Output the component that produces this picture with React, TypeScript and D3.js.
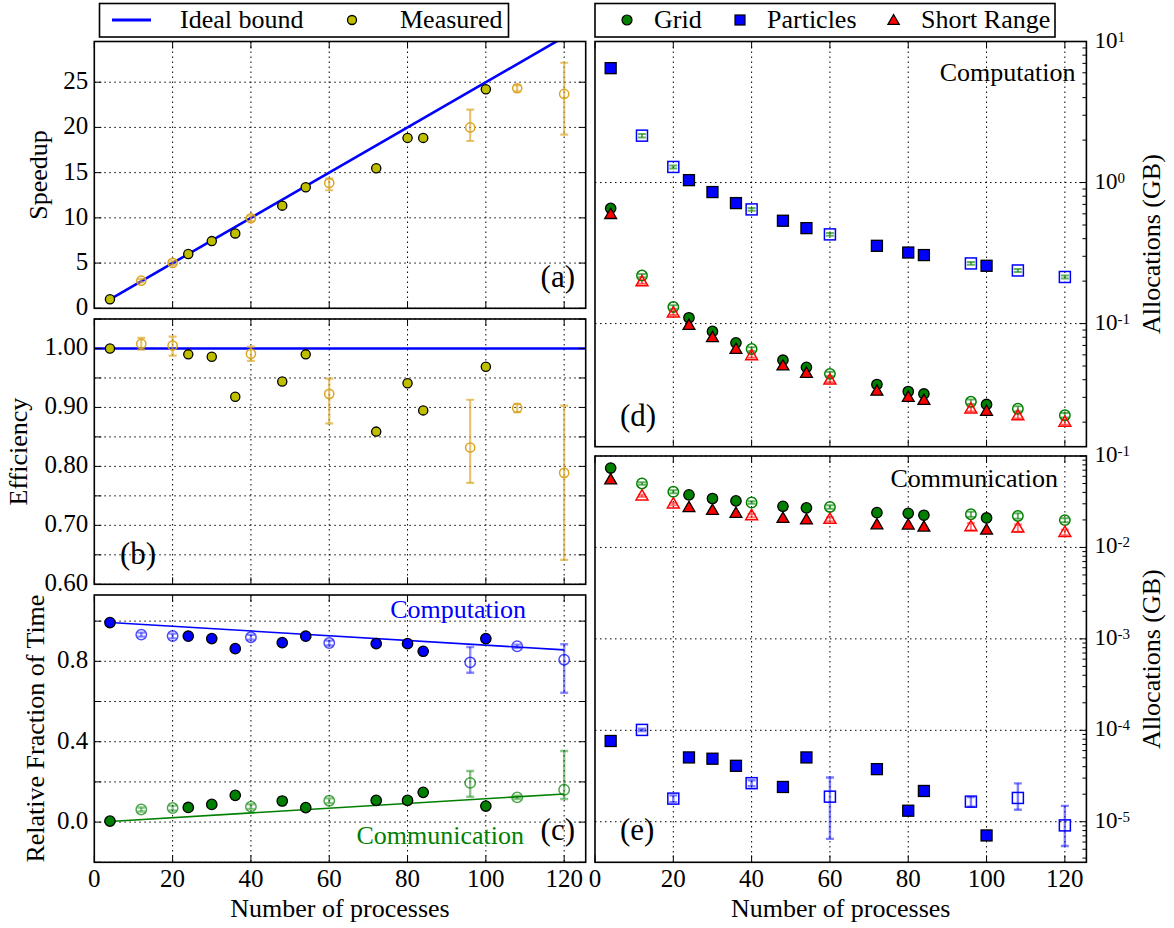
import React from 'react';
import * as d3 from 'd3';

// Process counts of every run; repeated runs are drawn hollow with error bars
const procs = [4, 12, 20, 24, 30, 36, 40, 48, 54, 60, 72, 80, 84, 96, 100, 108, 120];
const repeated = [0, 1, 1, 0, 0, 0, 1, 0, 0, 1, 0, 0, 0, 1, 0, 1, 1];

// (a) speedup, with lower / upper error extents of repeated runs
const speedup = [1.0, 3.05, 5.02, 6.0, 7.43, 8.28, 9.95, 11.35, 13.38, 13.85, 15.48, 18.84, 18.84, 20.0, 24.22, 24.33, 23.7];
const speedupLo = [0, 0.2, 0.25, 0, 0, 0, 0.3, 0, 0, 0.8, 0, 0, 0, 1.5, 0, 0.35, 4.5];
const speedupHi = [0, 0.2, 0.25, 0, 0, 0, 0.3, 0, 0, 0.5, 0, 0, 0, 1.97, 0, 0.35, 3.45];
const idealProcs = [4, 120];
const idealSpeedup = [1, 30];

// (b) efficiency
const efficiency = [1.0, 1.008, 1.005, 0.99, 0.986, 0.918, 0.991, 0.944, 0.99, 0.923, 0.859, 0.941, 0.895, 0.832, 0.969, 0.899, 0.789];
const efficiencyLo = [0, 0.01, 0.017, 0, 0, 0, 0.012, 0, 0, 0.05, 0, 0, 0, 0.06, 0, 0.007, 0.1475];
const efficiencyHi = [0, 0.01, 0.015, 0, 0, 0, 0.012, 0, 0, 0.026, 0, 0, 0, 0.081, 0, 0.007, 0.114];
const idealEfficiency = 1.0;

// (c) relative fraction of time
const compFraction = [0.993, 0.933, 0.926, 0.925, 0.913, 0.863, 0.92, 0.893, 0.925, 0.891, 0.888, 0.888, 0.85, 0.795, 0.913, 0.875, 0.808];
const compFractionLo = [0, 0.01, 0.012, 0, 0, 0, 0.012, 0, 0, 0.012, 0, 0, 0, 0.052, 0, 0.008, 0.164];
const compFractionHi = [0, 0.01, 0.012, 0, 0, 0, 0.012, 0, 0, 0.012, 0, 0, 0, 0.076, 0, 0.008, 0.077];
const commFraction = [0.005, 0.063, 0.07, 0.073, 0.088, 0.133, 0.077, 0.105, 0.072, 0.106, 0.108, 0.108, 0.148, 0.195, 0.08, 0.123, 0.161];
const commFractionLo = [0, 0.01, 0.012, 0, 0, 0, 0.012, 0, 0, 0.012, 0, 0, 0, 0.069, 0, 0.008, 0.046];
const commFractionHi = [0, 0.01, 0.012, 0, 0, 0, 0.012, 0, 0, 0.012, 0, 0, 0, 0.059, 0, 0.008, 0.193];
const trendProcs = [4, 120];
const compTrend = [0.993, 0.857];
const commTrend = [0.003, 0.14];

// (d) computation allocations (GB)
const gridComp = [0.656, 0.219, 0.131, 0.11, 0.088, 0.073, 0.066, 0.055, 0.049, 0.044, 0.037, 0.033, 0.0317, 0.0279, 0.0267, 0.0249, 0.0224];
const gridCompErr = [0, 0.006, 0.004, 0, 0, 0, 0.002, 0, 0, 0.0015, 0, 0, 0, 0.001, 0, 0.001, 0.0008];
const particlesComp = [6.47, 2.15, 1.29, 1.04, 0.856, 0.715, 0.645, 0.536, 0.475, 0.429, 0.356, 0.319, 0.306, 0.267, 0.257, 0.238, 0.214];
const particlesCompErr = [0, 0.06, 0.03, 0, 0, 0, 0.015, 0, 0, 0.01, 0, 0, 0, 0.006, 0, 0.006, 0.005];
const shortComp = [0.594, 0.198, 0.119, 0.0973, 0.0796, 0.0657, 0.0593, 0.0501, 0.0444, 0.0398, 0.0332, 0.03, 0.0286, 0.0248, 0.0239, 0.0222, 0.02];
const shortCompErr = [0, 0.006, 0.004, 0, 0, 0, 0.002, 0, 0, 0.0015, 0, 0, 0, 0.001, 0, 0.001, 0.0008];

// (e) communication allocations (GB)
const gridComm = [0.0738, 0.0501, 0.0406, 0.0376, 0.0343, 0.0323, 0.031, 0.0282, 0.0271, 0.0277, 0.024, 0.0236, 0.0225, 0.0231, 0.021, 0.0221, 0.0199];
const gridCommErr = [0, 0.0015, 0.0015, 0, 0, 0, 0.001, 0, 0, 0.0012, 0, 0, 0, 0.0015, 0, 0.0015, 0.001];
const particlesComm = [7.64e-5, 1.01e-4, 1.79e-5, 5.05e-5, 4.89e-5, 4.09e-5, 2.64e-5, 2.4e-5, 5.05e-5, 1.88e-5, 3.76e-5, 1.32e-5, 2.17e-5, 1.66e-5, 7.08e-6, 1.82e-5, 9.12e-6];
const particlesCommLo = [0, 3e-6, 1.5e-6, 0, 0, 0, 2e-6, 0, 0, 1.23e-5, 0, 0, 0, 2e-6, 0, 4.7e-6, 3.7e-6];
const particlesCommHi = [0, 3e-6, 1.5e-6, 0, 0, 0, 2e-6, 0, 0, 1.17e-5, 0, 0, 0, 2e-6, 0, 8.1e-6, 5.8e-6];
const shortComm = [0.0549, 0.0366, 0.0299, 0.0273, 0.0255, 0.0236, 0.0223, 0.0208, 0.02, 0.0203, 0.0177, 0.0176, 0.0167, 0.0169, 0.0155, 0.0163, 0.0146];
const shortCommErr = [0, 0.001, 0.001, 0, 0, 0, 0.001, 0, 0, 0.001, 0, 0, 0, 0.0015, 0, 0.0015, 0.001];

// Axis ticks
const xTicks = [0, 20, 40, 60, 80, 100, 120];
const speedupTicks = [0, 5, 10, 15, 20, 25];
const efficiencyTicks = [0.6, 0.65, 0.7, 0.75, 0.8, 0.85, 0.9, 0.95, 1.0, 1.05];
const efficiencyLabels = [0.6, 0.7, 0.8, 0.9, 1.0];
const fractionTicks = [-0.2, 0, 0.2, 0.4, 0.6, 0.8, 1.0];
const fractionLabels = [0, 0.4, 0.8];
const compDecades = [1, 0, -1];
const commDecades = [-1, -2, -3, -4, -5];

const FONT = '"Liberation Serif", "Nimbus Roman", "DejaVu Serif", serif';
const YELLOW = '#bfbf00';
const GOLD = '#daa520';
const BLUE = '#0000ff';
const GREEN = '#008000';
const RED = '#ff0000';

// Panel geometry
const LX0 = 94.3, LX1 = 585.7, RX0 = 595, RX1 = 1086.4;
const xLeft = d3.scaleLinear().domain([0, 125.5]).range([LX0, LX1]);
const xRight = d3.scaleLinear().domain([0, 125.5]).range([RX0, RX1]);
const yA = d3.scaleLinear().domain([0, 29.5]).range([308.3, 41.5]);
const yB = d3.scaleLinear().domain([0.6, 1.05]).range([584.3, 319]);
const yC = d3.scaleLinear().domain([-0.2, 1.13]).range([862.3, 595]);
const yD = d3.scaleLog().domain([0.0134, 10]).range([446.7, 41.5]);
const yE = d3.scaleLog().domain([3.6e-6, 0.1]).range([862.3, 456]);

type Pt = { x: number; y: number; lo: number; hi: number; open: boolean };
const series = (values: number[], lo: number[], hi: number[] = lo): Pt[] =>
  procs.map((p, i) => ({ x: p, y: values[i], lo: lo[i], hi: hi[i], open: repeated[i] === 1 }));

function clipId(name: string) {
  return `clip-${name}`;
}

function Grid({ name, x, y, yGrid }: any) {
  const [x0, x1] = x.range();
  const [yb, yt] = y.range();
  return (
    <g>
      <defs>
        <clipPath id={clipId(name)}>
          <rect x={x0} y={yt} width={x1 - x0} height={yb - yt} />
        </clipPath>
      </defs>
      <g stroke="#000" strokeWidth={1} strokeDasharray="1.5,3.5" fill="none">
        {xTicks.filter((t) => t > 0).map((t) => (
          <line key={'gx' + t} x1={x(t)} x2={x(t)} y1={yt} y2={yb} />
        ))}
        {yGrid.map((t: number) => (
          <line key={'gy' + t} x1={x0} x2={x1} y1={y(t)} y2={y(t)} />
        ))}
      </g>
    </g>
  );
}

function Frame({ x, y, yTicks, leftTicks, minor }: any) {
  const [x0, x1] = x.range();
  const [yb, yt] = y.range();
  const L = 7;
  return (
    <g stroke="#000" fill="none">
      <g strokeWidth={1}>
        {xTicks.map((t) => (
          <g key={'tx' + t}>
            <line x1={x(t)} x2={x(t)} y1={yb} y2={yb - L} />
            <line x1={x(t)} x2={x(t)} y1={yt} y2={yt + L} />
          </g>
        ))}
        {yTicks.map((t: number) => (
          <g key={'ty' + t}>
            {leftTicks && <line x1={x0} x2={x0 + L} y1={y(t)} y2={y(t)} />}
            <line x1={x1} x2={x1 - L} y1={y(t)} y2={y(t)} />
          </g>
        ))}
        {(minor || []).map((t: number) => (
          <line key={'tm' + t} x1={x1} x2={x1 - 4} y1={y(t)} y2={y(t)} />
        ))}
      </g>
      <rect x={x0} y={yt} width={x1 - x0} height={yb - yt} strokeWidth={1.6} />
    </g>
  );
}

function Marker({ shape, cx, cy, size, fill, stroke, sw, opacity = 1 }: any) {
  const common = { fill, stroke, strokeWidth: sw, strokeOpacity: opacity };
  if (shape === 'square') {
    return <rect x={cx - size} y={cy - size} width={2 * size} height={2 * size} {...common} />;
  }
  if (shape === 'triangle') {
    const pts = `${cx},${cy - size * 1.15} ${cx + size * 1.1},${cy + size * 0.75} ${cx - size * 1.1},${cy + size * 0.75}`;
    return <polygon points={pts} {...common} />;
  }
  return <circle cx={cx} cy={cy} r={size} {...common} />;
}

function ErrorBars({ pts, x, y, color, opacity = 0.6, cap = 4, width = 2.2, floor = -Infinity }: any) {
  return (
    <g stroke={color} strokeOpacity={opacity} strokeWidth={width} fill="none">
      {pts
        .filter((p: Pt) => p.open && (p.lo > 0 || p.hi > 0))
        .map((p: Pt, i: number) => {
          const cx = x(p.x);
          const ya = y(Math.max(p.y - p.lo, floor));
          const yb = y(p.y + p.hi);
          return (
            <g key={i}>
              <line x1={cx} x2={cx} y1={ya} y2={yb} />
              <line x1={cx - cap} x2={cx + cap} y1={ya} y2={ya} />
              <line x1={cx - cap} x2={cx + cap} y1={yb} y2={yb} />
            </g>
          );
        })}
    </g>
  );
}

function Points({ pts, x, y, shape, size, fill, openColor, openOpacity = 1, openWidth = 1.5 }: any) {
  return (
    <g>
      {pts.map((p: Pt, i: number) =>
        p.open ? (
          <Marker key={i} shape={shape} cx={x(p.x)} cy={y(p.y)} size={size} fill="none" stroke={openColor} sw={openWidth} opacity={openOpacity} />
        ) : (
          <Marker key={i} shape={shape} cx={x(p.x)} cy={y(p.y)} size={size} fill={fill} stroke="#000" sw={1.3} />
        )
      )}
    </g>
  );
}

function LeftTickLabels({ y, ticks, fmt }: any) {
  return (
    <g fontSize={25} textAnchor="end">
      {ticks.map((t: number) => (
        <text key={t} x={LX0 - 6} y={y(t) + 7}>
          {fmt(t)}
        </text>
      ))}
    </g>
  );
}

function PowerLabels({ y, decades }: any) {
  return (
    <g fontSize={23}>
      {decades.map((e: number) => (
        <text key={e} x={RX1 + 8} y={y(Math.pow(10, e)) + 6}>
          10
          <tspan fontSize={15} dy={-6}>
            {e < 0 ? '-' + Math.abs(e) : String(e)}
          </tspan>
        </text>
      ))}
    </g>
  );
}

function XTickLabels({ x }: any) {
  return (
    <g fontSize={25} textAnchor="middle">
      {xTicks.map((t) => (
        <text key={t} x={x(t)} y={886.7}>
          {t}
        </text>
      ))}
    </g>
  );
}

function minorTicks(lo: number, hi: number) {
  const out: number[] = [];
  for (let e = lo; e <= hi; e++) {
    for (let m = 2; m <= 9; m++) out.push(m * Math.pow(10, e));
  }
  return out;
}

export default function App() {
  const speedPts = series(speedup, speedupLo, speedupHi);
  const effPts = series(efficiency, efficiencyLo, efficiencyHi);
  const compPts = series(compFraction, compFractionLo, compFractionHi);
  const commPts = series(commFraction, commFractionLo, commFractionHi);
  const gridD = series(gridComp, gridCompErr);
  const partD = series(particlesComp, particlesCompErr);
  const shortD = series(shortComp, shortCompErr);
  const gridE = series(gridComm, gridCommErr);
  const partE = series(particlesComm, particlesCommLo, particlesCommHi);
  const shortE = series(shortComm, shortCommErr);

  const idealLine = d3.line<number>().x((_, i) => xLeft(idealProcs[i])).y((v) => yA(v));
  const trendLine = d3.line<number>().x((_, i) => xLeft(trendProcs[i])).y((v) => yC(v));

  const minorD = minorTicks(-2, 0).filter((v) => v >= 0.0134 && v <= 10);
  const minorE = minorTicks(-6, -2).filter((v) => v >= 3.6e-6 && v <= 0.1);

  return (
    <svg
      width={1174}
      height={928}
      style={{ position: 'absolute', left: 0, top: 0, background: '#fff' }}
      fontFamily={FONT}
    >
      <rect x={0} y={0} width={1174} height={928} fill="#fff" />

      {/* Left legend */}
      <g>
        <rect x={99.5} y={3.5} width={409} height={33.5} fill="#fff" stroke="#000" strokeWidth={1.6} />
        <line x1={112} x2={151} y1={20} y2={20} stroke={BLUE} strokeWidth={3} />
        <text x={180} y={27.5} fontSize={26}>Ideal bound</text>
        <circle cx={352} cy={20} r={4.5} fill={YELLOW} stroke="#000" strokeWidth={1.3} />
        <text x={400} y={27.5} fontSize={26}>Measured</text>
      </g>

      {/* Right legend */}
      <g>
        <rect x={595} y={3.5} width={460} height={33.5} fill="#fff" stroke="#000" strokeWidth={1.6} />
        <Marker shape="circle" cx={627} cy={20} size={5} fill={GREEN} stroke="#000" sw={1.2} />
        <text x={654} y={27.5} fontSize={26}>Grid</text>
        <Marker shape="square" cx={740} cy={20} size={5} fill={BLUE} stroke="#000" sw={1.2} />
        <text x={767} y={27.5} fontSize={26}>Particles</text>
        <Marker shape="triangle" cx={893.6} cy={20.5} size={5.2} fill={RED} stroke="#000" sw={1.2} />
        <text x={921} y={27.5} fontSize={26}>Short Range</text>
      </g>

      {/* (a) Speedup */}
      <Grid name="a" x={xLeft} y={yA} yGrid={speedupTicks} />
      <g clipPath={`url(#${clipId('a')})`}>
        <path d={idealLine(idealSpeedup) || ''} stroke={BLUE} strokeWidth={2.6} fill="none" />
        <ErrorBars pts={speedPts} x={xLeft} y={yA} color={GOLD} opacity={0.65} />
        <Points pts={speedPts} x={xLeft} y={yA} shape="circle" size={4.6} fill={YELLOW} openColor={GOLD} />
      </g>
      <Frame x={xLeft} y={yA} yTicks={speedupTicks} leftTicks />
      <LeftTickLabels y={yA} ticks={speedupTicks} fmt={(t: number) => String(t)} />
      <text x={575} y={286.5} fontSize={31} textAnchor="end">(a)</text>
      <text transform="translate(47,175) rotate(-90)" fontSize={26} textAnchor="middle">Speedup</text>

      {/* (b) Efficiency */}
      <Grid name="b" x={xLeft} y={yB} yGrid={efficiencyTicks} />
      <g clipPath={`url(#${clipId('b')})`}>
        <line x1={LX0} x2={LX1} y1={yB(idealEfficiency)} y2={yB(idealEfficiency)} stroke={BLUE} strokeWidth={2.6} />
        <ErrorBars pts={effPts} x={xLeft} y={yB} color={GOLD} opacity={0.65} />
        <Points pts={effPts} x={xLeft} y={yB} shape="circle" size={4.6} fill={YELLOW} openColor={GOLD} />
      </g>
      <Frame x={xLeft} y={yB} yTicks={efficiencyTicks} leftTicks />
      <LeftTickLabels y={yB} ticks={efficiencyLabels} fmt={d3.format('.2f')} />
      <text x={120} y={563.5} fontSize={31}>(b)</text>
      <text transform="translate(26.5,451.6) rotate(-90)" fontSize={26} textAnchor="middle">Efficiency</text>

      {/* (c) Relative fraction of time */}
      <Grid name="c" x={xLeft} y={yC} yGrid={fractionTicks} />
      <g clipPath={`url(#${clipId('c')})`}>
        <path d={trendLine(compTrend) || ''} stroke={BLUE} strokeWidth={1.6} fill="none" />
        <path d={trendLine(commTrend) || ''} stroke={GREEN} strokeWidth={1.6} fill="none" />
        <ErrorBars pts={compPts} x={xLeft} y={yC} color={BLUE} opacity={0.45} width={2.4} />
        <ErrorBars pts={commPts} x={xLeft} y={yC} color={GREEN} opacity={0.45} width={2.4} />
        <Points pts={compPts} x={xLeft} y={yC} shape="circle" size={5.2} fill={BLUE} openColor={BLUE} openOpacity={0.7} />
        <Points pts={commPts} x={xLeft} y={yC} shape="circle" size={5.2} fill={GREEN} openColor={GREEN} openOpacity={0.7} />
      </g>
      <Frame x={xLeft} y={yC} yTicks={fractionTicks} leftTicks />
      <LeftTickLabels y={yC} ticks={fractionLabels} fmt={d3.format('.1f')} />
      <text x={526} y={618} fontSize={26} fill={BLUE} textAnchor="end">Computation</text>
      <text x={524} y={844} fontSize={26} fill={GREEN} textAnchor="end">Communication</text>
      <text x={575} y={840} fontSize={31} textAnchor="end">(c)</text>
      <text transform="translate(44,728.6) rotate(-90)" fontSize={26} textAnchor="middle">Relative Fraction of Time</text>
      <XTickLabels x={xLeft} />
      <text x={(LX0 + LX1) / 2} y={917} fontSize={26} textAnchor="middle">Number of processes</text>

      {/* (d) Computation allocations */}
      <Grid name="d" x={xRight} y={yD} yGrid={compDecades.map((e) => Math.pow(10, e))} />
      <g clipPath={`url(#${clipId('d')})`}>
        <ErrorBars pts={gridD} x={xRight} y={yD} color={GREEN} opacity={0.6} width={2} cap={4} floor={1e-9} />
        <ErrorBars pts={shortD} x={xRight} y={yD} color={RED} opacity={0.6} width={2} cap={4} floor={1e-9} />
        <ErrorBars pts={partD} x={xRight} y={yD} color={GREEN} opacity={0.6} width={2} cap={4} floor={1e-9} />
        <Points pts={gridD} x={xRight} y={yD} shape="circle" size={5.2} fill={GREEN} openColor={GREEN} />
        <Points pts={shortD} x={xRight} y={yD} shape="triangle" size={5.4} fill={RED} openColor={RED} />
        <Points pts={partD} x={xRight} y={yD} shape="square" size={5.5} fill={BLUE} openColor={BLUE} />
      </g>
      <Frame x={xRight} y={yD} yTicks={compDecades.map((e) => Math.pow(10, e))} minor={minorD} />
      <PowerLabels y={yD} decades={compDecades} />
      <text x={1075.5} y={81} fontSize={26} textAnchor="end">Computation</text>
      <text x={620} y={426} fontSize={31}>(d)</text>
      <text transform="translate(1160,244.1) rotate(-90)" fontSize={26} textAnchor="middle">Allocations (GB)</text>

      {/* (e) Communication allocations */}
      <Grid name="e" x={xRight} y={yE} yGrid={commDecades.map((e) => Math.pow(10, e))} />
      <g clipPath={`url(#${clipId('e')})`}>
        <ErrorBars pts={gridE} x={xRight} y={yE} color={GREEN} opacity={0.6} width={2} cap={4} floor={1e-9} />
        <ErrorBars pts={shortE} x={xRight} y={yE} color={RED} opacity={0.5} width={2} cap={4} floor={1e-9} />
        <ErrorBars pts={partE} x={xRight} y={yE} color={BLUE} opacity={0.5} width={2.4} cap={4} floor={1e-9} />
        <Points pts={gridE} x={xRight} y={yE} shape="circle" size={5.2} fill={GREEN} openColor={GREEN} />
        <Points pts={shortE} x={xRight} y={yE} shape="triangle" size={5.4} fill={RED} openColor={RED} />
        <Points pts={partE} x={xRight} y={yE} shape="square" size={5.5} fill={BLUE} openColor={BLUE} />
      </g>
      <Frame x={xRight} y={yE} yTicks={commDecades.map((e) => Math.pow(10, e))} minor={minorE} />
      <PowerLabels y={yE} decades={commDecades} />
      <text x={1058} y={486.5} fontSize={26} textAnchor="end">Communication</text>
      <text x={620} y={840} fontSize={31}>(e)</text>
      <text transform="translate(1160,659.2) rotate(-90)" fontSize={26} textAnchor="middle">Allocations (GB)</text>
      <XTickLabels x={xRight} />
      <text x={(RX0 + RX1) / 2} y={917} fontSize={26} textAnchor="middle">Number of processes</text>
    </svg>
  );
}
